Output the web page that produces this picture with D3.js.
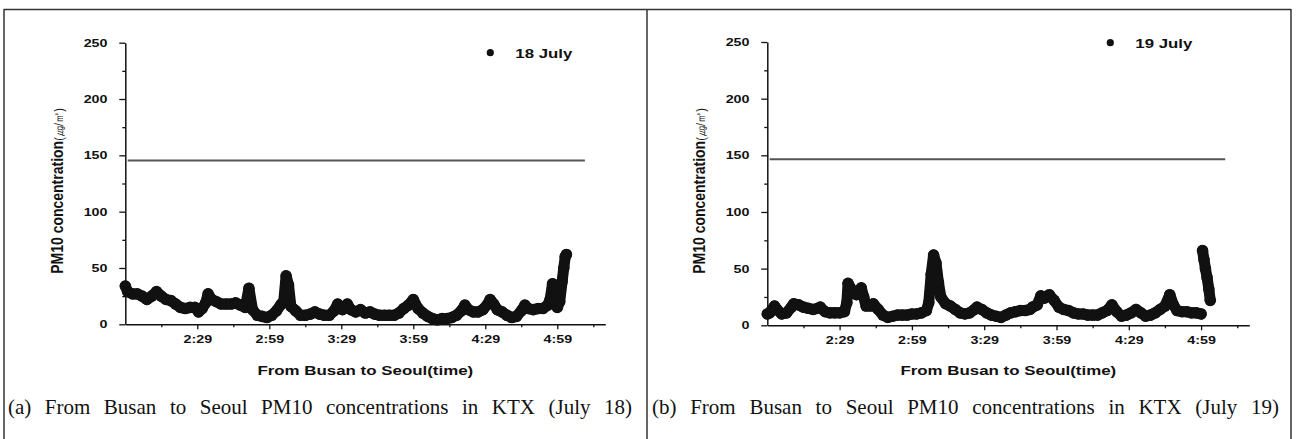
<!DOCTYPE html>
<html>
<head>
<meta charset="utf-8">
<script src="https://cdn.jsdelivr.net/npm/d3@7/dist/d3.min.js"></script>
<style>
  body { margin: 0; background: #fff; }
  svg { display: block; }
</style>
</head>
<body>
<div id="chart"></div>
<script>
// values; time is minutes after midnight (119 = 1:59)
const yTicks = [0, 50, 100, 150, 200, 250];
const yMinorTicks = [25, 75, 125, 175, 225];
const xTickMinutes = [149, 179, 209, 239, 269, 299];
const xTickLabels = ["2:29", "2:59", "3:29", "3:59", "4:29", "4:59"];
const xMinorMinutes = [134, 164, 194, 224, 254, 284, 314];

const july18 = [
  [119, 34], [120, 29], [122, 27], [124, 27], [126, 25], [128, 22], [130, 25], [132, 29],
  [134, 25], [136, 22], [138, 21], [140, 18], [142, 15], [144, 14], [146, 15], [148, 15],
  [149.5, 11], [151, 14], [152.5, 19], [153.5, 27], [155, 22], [157, 20], [159, 18], [161, 18],
  [163, 18], [165, 19], [167, 17], [169, 15], [170.5, 32], [172, 13], [174, 8], [176, 7],
  [178, 6], [180, 8], [182, 12], [184, 18], [185, 20], [186, 43], [187, 35], [188, 16],
  [190, 12], [192, 8], [194, 8], [196, 9], [198, 11], [200, 9], [202, 8], [204, 8],
  [206, 12], [207.5, 18], [209.5, 13], [211.5, 18], [213, 13], [215, 11], [217, 13], [219, 10],
  [221, 11], [223, 9], [225, 8], [227, 8], [229, 8], [231, 8], [233, 10], [235, 14],
  [237, 17], [239, 22], [241, 14], [243, 10], [245, 7], [247, 5], [249, 4], [251, 5],
  [253, 5], [255, 6], [257, 8], [259, 12], [260.5, 17], [262, 13], [264, 11], [266, 11],
  [268, 13], [270, 18], [271, 22], [272.5, 18], [274, 13], [276, 11], [278, 8], [280, 6],
  [282, 7], [284, 12], [285.5, 17], [287, 14], [289, 13], [291, 14], [293, 14], [295, 17],
  [296, 22], [297, 36], [298, 27], [299, 15], [300, 20], [301, 38], [301.7, 50], [302.3, 60],
  [302.8, 62]
];

const july19 = [
  [119, 10], [120, 11], [121, 14], [122, 17], [123, 14], [125, 10], [127, 11], [129, 16],
  [130, 19], [132, 18], [134, 16], [136, 15], [138, 14], [140, 15], [141, 16], [143, 12],
  [145, 11], [147, 11], [149, 11], [151, 12], [152, 20], [152.5, 37], [153.5, 33], [154.5, 30],
  [156, 27], [158, 33], [159, 25], [160, 17], [162, 17], [163, 19], [165, 14], [167, 9],
  [169, 7], [171, 8], [173, 9], [175, 9], [177, 9], [179, 10], [181, 10], [183, 11],
  [185, 13], [186, 20], [187, 45], [188, 62], [189, 55], [190, 38], [191, 25], [193, 19],
  [195, 17], [197, 14], [199, 11], [201, 10], [203, 11], [205, 14], [206, 16], [208, 14],
  [210, 11], [212, 9], [214, 8], [216, 7], [218, 9], [220, 11], [222, 12], [224, 13],
  [226, 13], [228, 14], [229, 16], [231, 18], [232.5, 26], [234, 24], [236, 27], [238, 22],
  [240, 16], [242, 14], [244, 13], [246, 11], [248, 10], [250, 10], [252, 9], [254, 9],
  [256, 9], [258, 11], [260, 13], [262, 18], [264, 12], [266, 8], [268, 9], [270, 11],
  [272, 14], [274, 11], [276, 8], [278, 9], [280, 11], [282, 14], [284, 17], [286, 27],
  [287.5, 18], [289, 13], [291, 12], [293, 12], [295, 11], [297, 11], [299, 10], [299.3, null],
  [299.6, 66], [300.2, 58], [300.8, 50], [301.5, 42], [302.2, 32], [302.8, 22]
];

// the horizontal reference line in each panel
const limit18 = [[120, 145.5], [310.5, 145.5]];
const limit19 = [[120, 146.5], [309, 146.5]];

const legendLabels = ["18 July", "19 July"];
const captions = [
  "(a) From Busan to Seoul PM10 concentrations in KTX (July 18)",
  "(b) From Busan to Seoul PM10 concentrations in KTX (July 19)"
];
const xTitle = "From Busan to Seoul(time)";
const yTitle = "PM10 concentration";
const yUnit = "(㎍/㎥)";

const W = 1297, H = 439;
const ink = "#111";
const sans = "'Liberation Sans', Arial, sans-serif";
const serif = "'Liberation Serif', 'Times New Roman', serif";

const panels = [
  { series: july18, limit: limit18, label: legendLabels[0], caption: captions[0],
    left: 125.3, width: 480, top: 42.7, bottom: 324.3,
    legX: 365, legY: 52.7, capX: 8, capW: 624, yLabX: 57 },
  { series: july19, limit: limit19, label: legendLabels[1], caption: captions[1],
    left: 767.3, width: 482, top: 42, bottom: 325.3,
    legX: 343, legY: 42.7, capX: 652, capW: 627, yLabX: 699 }
];

const svg = d3.select("#chart").append("svg")
  .attr("width", W)
  .attr("height", H);

svg.append("rect").attr("width", W).attr("height", H).attr("fill", "#fff");

// frame
const frame = svg.append("g").attr("stroke", "#333").attr("stroke-width", 1.5);
frame.append("line").attr("x1", 4).attr("x2", 1291).attr("y1", 9.5).attr("y2", 9.5);
[4, 647, 1291].forEach(x => {
  frame.append("line").attr("x1", x).attr("x2", x).attr("y1", 9).attr("y2", H);
});

// text stretched horizontally, like the scanned figure
function stretchedText(parent, x, y, str, opts) {
  const g = parent.append("g").attr("transform", `translate(${x},${y})`);
  const t = g.append("text")
    .attr("text-anchor", opts.anchor || "start")
    .attr("font-family", sans)
    .attr("font-weight", opts.weight || "bold")
    .attr("font-size", opts.size)
    .attr("fill", ink)
    .text(str);
  const len = t.node().getComputedTextLength();
  t.attr("transform", `scale(${opts.width / len},1)`);
  return t;
}

panels.forEach(p => {
  const g = svg.append("g").attr("transform", `translate(${p.left},0)`);

  const x = d3.scaleLinear().domain([119, 319]).range([0, p.width]);
  const y = d3.scaleLinear().domain([0, 250]).range([p.bottom, p.top]);

  // y axis
  const yAxis = g.append("g")
    .call(d3.axisLeft(y).tickValues(yTicks).tickSize(6).tickSizeOuter(0).tickPadding(10));
  g.append("g")
    .call(d3.axisLeft(y).tickValues(yMinorTicks).tickSize(3).tickSizeOuter(0).tickFormat(""))
    .select(".domain").remove();

  // x axis
  const xAxis = g.append("g")
    .attr("transform", `translate(0,${p.bottom})`)
    .call(d3.axisBottom(x).tickValues(xTickMinutes).tickSize(5).tickSizeOuter(0).tickPadding(6)
      .tickFormat((d, i) => xTickLabels[i]));
  g.append("g")
    .attr("transform", `translate(0,${p.bottom})`)
    .call(d3.axisBottom(x).tickValues(xMinorMinutes).tickSize(3).tickSizeOuter(0).tickFormat(""))
    .select(".domain").remove();

  g.selectAll(".domain").attr("stroke", ink).attr("stroke-width", 1.5);
  g.selectAll(".tick line").attr("stroke", ink).attr("stroke-width", 1.3);
  [yAxis, xAxis].forEach(a => {
    a.selectAll("text")
      .attr("font-family", sans)
      .attr("font-weight", "bold")
      .attr("font-size", 11)
      .attr("fill", ink);
  });
  yAxis.selectAll("text").attr("transform", "translate(-10,0) scale(1.3,1) translate(10,0)");
  xAxis.selectAll("text").attr("transform", "scale(1.3,1)");

  // reference line
  g.append("path")
    .datum(p.limit)
    .attr("fill", "none")
    .attr("stroke", "#555")
    .attr("stroke-width", 2)
    .attr("d", d3.line().x(d => x(d[0])).y(d => y(d[1])));

  // measurements
  const line = d3.line()
    .defined(d => d[1] != null)
    .x(d => x(d[0]))
    .y(d => y(d[1]));

  g.append("path")
    .datum(p.series)
    .attr("fill", "none")
    .attr("stroke", ink)
    .attr("stroke-width", 11)
    .attr("stroke-linejoin", "round")
    .attr("stroke-linecap", "round")
    .attr("d", line);

  g.append("g")
    .selectAll("circle")
    .data(p.series.filter(d => d[1] != null))
    .join("circle")
    .attr("cx", d => x(d[0]))
    .attr("cy", d => y(d[1]))
    .attr("r", 5.8)
    .attr("fill", ink);

  // legend
  g.append("circle")
    .attr("cx", p.legX)
    .attr("cy", p.legY)
    .attr("r", 3.6)
    .attr("fill", ink);
  stretchedText(g, p.legX + 25, p.legY + 5, p.label, { size: 12.5, width: 57 });

  // axis titles
  stretchedText(g, p.width / 2, 375, xTitle, { size: 12, width: 216, anchor: "middle" });

  const yl = svg.append("text")
    .attr("transform", `translate(${p.yLabX},191) rotate(-90) scale(1,1.15)`)
    .attr("text-anchor", "middle")
    .attr("font-family", sans)
    .attr("font-weight", "bold")
    .attr("font-size", 14)
    .attr("fill", ink)
    .attr("dy", "0.35em");
  yl.append("tspan").text(yTitle);
  yl.append("tspan").attr("font-size", 11).attr("font-weight", "normal").text(yUnit);

  // caption, justified across the panel by widening the word gaps
  const cap = svg.append("text")
    .attr("x", p.capX)
    .attr("y", 414)
    .attr("font-family", serif)
    .attr("font-size", 21)
    .attr("fill", ink)
    .text(p.caption);
  const gaps = p.caption.split(" ").length - 1;
  const extra = (p.capW - cap.node().getComputedTextLength()) / gaps;
  cap.attr("word-spacing", Math.max(0, extra));
});
</script>
</body>
</html>
